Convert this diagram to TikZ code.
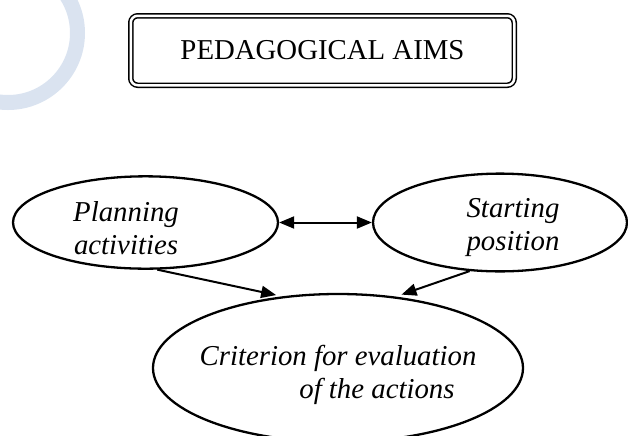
\documentclass[tikz,border=0pt]{standalone}
\usepackage{fontspec}
\setmainfont{Liberation Serif}
\usetikzlibrary{arrows.meta,shapes.geometric}
\definecolor{ringblue}{RGB}{218,227,240}

\begin{document}
\begin{tikzpicture}[x=0.5pt,y=-0.5pt,
  >={Triangle[length=7.5pt,width=6pt]},
  oval/.style={draw,ellipse,line width=1.15pt,inner sep=0pt,align=center,font=\fontsize{14.4}{16.5}\selectfont\itshape},
  aimbox/.style={draw,double,line width=0.75pt,double distance=1.25pt,rounded corners=3.5pt,minimum width=191.75pt,minimum height=34.75pt,font=\fontsize{14.4}{16}\selectfont},
  arr/.style={->,line width=1pt}]
\path[use as bounding box,clip] (0,0) rectangle (628,435);
% faint ring in the corner
\draw[ringblue,line width=7.5pt] (8,33) circle[radius=69.5];
\node[aimbox] (aims) at (322.5,50.5) {PEDAGOGICAL AIMS};
\node[oval,minimum width=132.5pt,minimum height=45.5pt] (plan) at (145.5,222.5)
  {\rule{0pt}{16pt}\hspace*{-19.5pt}Planning\\\hspace*{-19.5pt}activities};
\node[oval,minimum width=127pt,minimum height=45.5pt] (start) at (500,222.5)
  {\rule{0pt}{15pt}\hspace*{13pt}Starting\\\hspace*{13pt}position};
\node[oval,inner xsep=-6pt,minimum width=185pt,minimum height=74pt] (crit) at (338,368)
  {\rule{0pt}{17pt}Criterion for evaluation\\\hspace*{39pt}of the actions};
\draw[arr,<->] (plan.east) -- (start.west);
\draw[arr,shorten >=3pt] (plan.-76) -- (crit.128);
\draw[arr,shorten >=3pt] (start.-122) -- (crit.51);
\end{tikzpicture}
\end{document}
